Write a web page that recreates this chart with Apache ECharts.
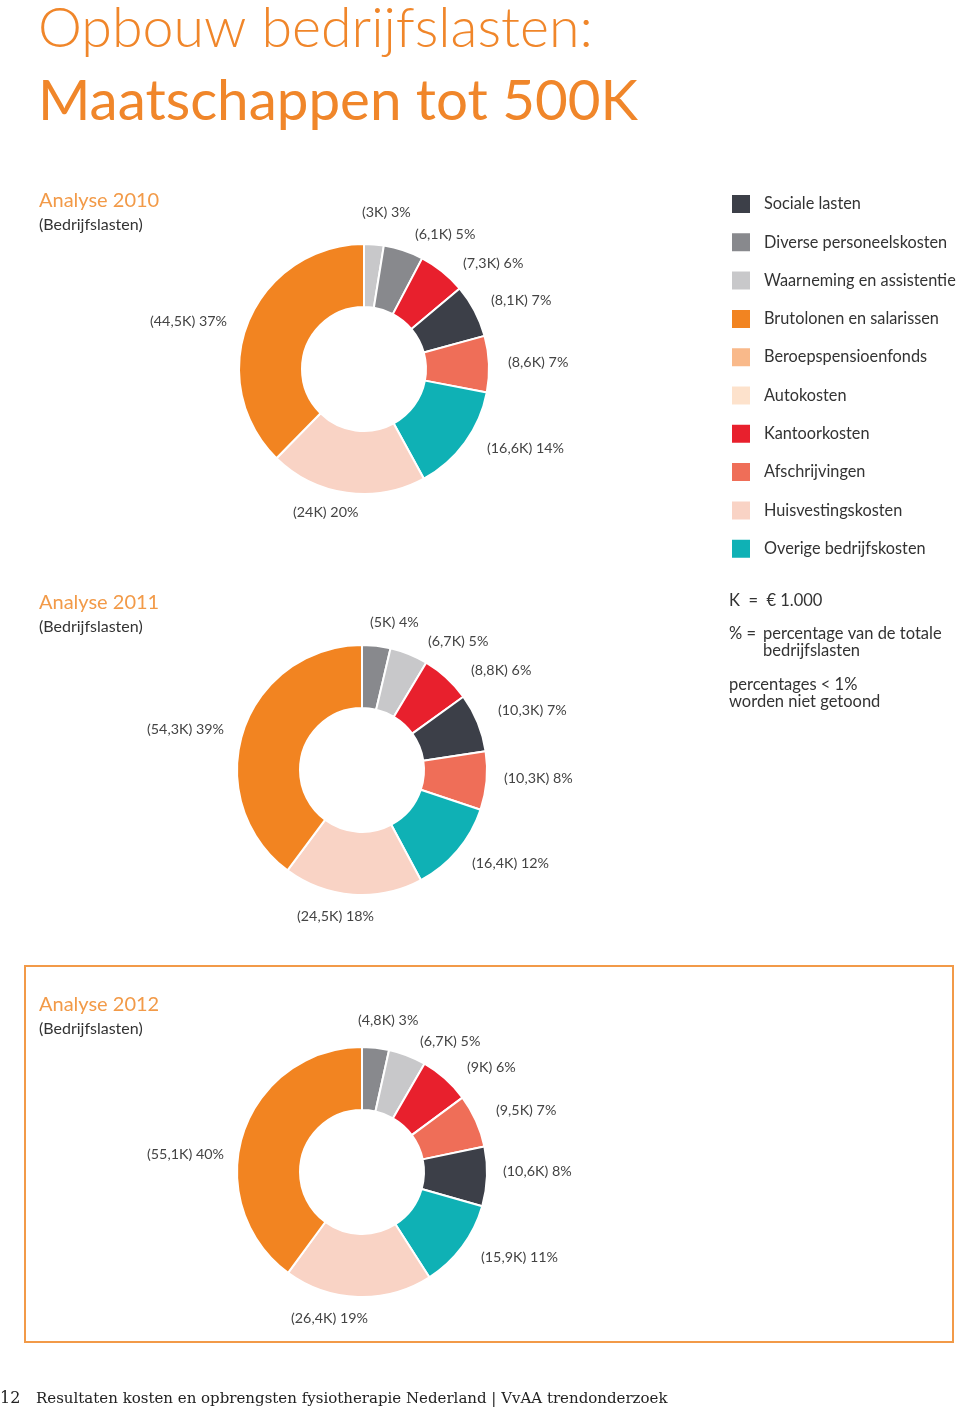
<!DOCTYPE html>
<html>
<head>
<meta charset="utf-8">
<script src="https://cdn.jsdelivr.net/npm/echarts@6/dist/echarts.min.js"></script>
<style>
  html, body { margin: 0; padding: 0; background: #fff; }
  #chart { width: 960px; height: 1412px; }
</style>
</head>
<body>
<div id="chart"></div>
<script>
// ---------- DATA ----------
const legendCategories = [
  'Sociale lasten', 'Diverse personeelskosten', 'Waarneming en assistentie',
  'Brutolonen en salarissen', 'Beroepspensioenfonds', 'Autokosten',
  'Kantoorkosten', 'Afschrijvingen', 'Huisvestingskosten', 'Overige bedrijfskosten'
];
const years = ['2010', '2011', '2012'];

// slice order clockwise from 12 o'clock (values in K euro), percentages as printed
const cats2010 = ['Waarneming en assistentie', 'Diverse personeelskosten', 'Kantoorkosten', 'Sociale lasten',
  'Afschrijvingen', 'Overige bedrijfskosten', 'Huisvestingskosten', 'Brutolonen en salarissen'];
const values2010 = [3, 6.1, 7.3, 8.1, 8.6, 16.6, 24, 44.5];
const pct2010 = [3, 5, 6, 7, 7, 14, 20, 37];

const cats2011 = ['Diverse personeelskosten', 'Waarneming en assistentie', 'Kantoorkosten', 'Sociale lasten',
  'Afschrijvingen', 'Overige bedrijfskosten', 'Huisvestingskosten', 'Brutolonen en salarissen'];
const values2011 = [5, 6.7, 8.8, 10.3, 10.3, 16.4, 24.5, 54.3];
const pct2011 = [4, 5, 6, 7, 8, 12, 18, 39];

const cats2012 = ['Diverse personeelskosten', 'Waarneming en assistentie', 'Kantoorkosten', 'Afschrijvingen',
  'Sociale lasten', 'Overige bedrijfskosten', 'Huisvestingskosten', 'Brutolonen en salarissen'];
const values2012 = [4.8, 6.7, 9, 9.5, 10.6, 15.9, 26.4, 55.1];
const pct2012 = [3, 5, 6, 7, 8, 11, 19, 40];

// categories below 1% (not shown)
const hiddenCats = ['Beroepspensioenfonds', 'Autokosten'];

// ---------- STYLE ----------
const colorMap = {
  'Sociale lasten': '#3c3f48',
  'Diverse personeelskosten': '#88898d',
  'Waarneming en assistentie': '#c8c8ca',
  'Brutolonen en salarissen': '#f28421',
  'Beroepspensioenfonds': '#f9b98a',
  'Autokosten': '#fde2cc',
  'Kantoorkosten': '#e8202d',
  'Afschrijvingen': '#ef6e58',
  'Huisvestingskosten': '#f9d3c5',
  'Overige bedrijfskosten': '#0fb1b5'
};
const ORANGE = '#f0862a';
const HEAD = '#f29a48';
const TXT = '#333333';
const FONT = 'Lato, "Noto Sans", sans-serif';

// label anchor positions (left edge, vertical middle), per pie
const labelPos = [
  [[362,212],[415,234],[463,263],[491,300],[508,362],[487,448],[293,512],[150,321]],
  [[370,622],[428,641],[471,670],[498,710],[504,778],[472,863],[297,916],[147,729]],
  [[358,1020],[420,1041],[467,1067],[496,1110],[503,1171],[481,1257],[291,1318],[147,1154]]
];
const centers = [[364, 369], [362, 770], [362, 1172]];

function fmtK(v) { return String(v).replace('.', ',') + 'K'; }

function buildData(cats, vals, pcts) {
  const d = cats.map((c, i) => ({
    name: c, value: vals[i],
    itemStyle: { color: colorMap[c] },
    label: { show: true, formatter: '(' + fmtK(vals[i]) + ') ' + pcts[i] + '%' }
  }));
  hiddenCats.forEach(c => d.push({ name: c, value: 0, itemStyle: { color: colorMap[c] }, label: { show: false } }));
  return d;
}

const pieSets = [
  buildData(cats2010, values2010, pct2010),
  buildData(cats2011, values2011, pct2011),
  buildData(cats2012, values2012, pct2012)
];

const series = pieSets.map((data, si) => ({
  type: 'pie',
  name: 'Analyse ' + years[si],
  center: centers[si],
  radius: [62, 125],
  startAngle: 90,
  clockwise: true,
  avoidLabelOverlap: false,
  silent: true,
  itemStyle: { borderColor: '#ffffff', borderWidth: 2 },
  label: { position: 'outside', color: '#444', fontFamily: FONT, fontSize: 14.3 },
  labelLine: { show: false },
  labelLayout: function (p) {
    const pos = labelPos[si][p.dataIndex];
    if (!pos) return {};
    return { x: pos[0], y: pos[1], align: 'left', verticalAlign: 'middle' };
  },
  data: data
}));

const NOTE = '16.5px ' + FONT;
const graphics = [
  { type: 'text', left: 38, top: 1, style: { text: 'Opbouw bedrijfslasten:', fill: ORANGE, font: '300 55.5px ' + FONT } },
  { type: 'text', left: 38, top: 73, style: { text: 'Maatschappen tot 500K', fill: ORANGE, font: '400 56.5px ' + FONT } },
  { type: 'rect', shape: { x: 25, y: 966, width: 928, height: 376 }, style: { fill: 'none', stroke: HEAD, lineWidth: 2 } },
  { type: 'text', x: 36, y: 1399, style: { text: 'Resultaten kosten en opbrengsten fysiotherapie Nederland | VvAA trendonderzoek', fill: '#222', font: '15px "DejaVu Serif", serif', verticalAlign: 'middle' } },
  { type: 'text', x: 0, y: 1399, style: { text: '12', fill: '#222', font: '16px "DejaVu Serif", serif', verticalAlign: 'middle' } },
  { type: 'text', x: 729, y: 601, style: { text: 'K  =  € 1.000', fill: TXT, font: NOTE, verticalAlign: 'middle' } },
  { type: 'text', x: 729, y: 634, style: { text: '% =', fill: TXT, font: NOTE, verticalAlign: 'middle' } },
  { type: 'text', x: 763, y: 634, style: { text: 'percentage van de totale', fill: TXT, font: NOTE, verticalAlign: 'middle' } },
  { type: 'text', x: 763, y: 651, style: { text: 'bedrijfslasten', fill: TXT, font: NOTE, verticalAlign: 'middle' } },
  { type: 'text', x: 729, y: 685, style: { text: 'percentages < 1%', fill: TXT, font: NOTE, verticalAlign: 'middle' } },
  { type: 'text', x: 729, y: 702, style: { text: 'worden niet getoond', fill: TXT, font: NOTE, verticalAlign: 'middle' } }
];
const headY = [201, 603, 1005];
years.forEach((y, i) => {
  graphics.push({ type: 'text', x: 39, y: headY[i], style: { text: 'Analyse ' + y, fill: HEAD, font: '20px ' + FONT, verticalAlign: 'middle' } });
  graphics.push({ type: 'text', x: 39, y: headY[i] + 24, style: { text: '(Bedrijfslasten)', fill: TXT, font: '16px ' + FONT, verticalAlign: 'middle' } });
});

const chart = echarts.init(document.getElementById('chart'), null, { renderer: 'canvas' });
chart.setOption({
  backgroundColor: '#ffffff',
  animation: false,
  legend: {
    orient: 'vertical',
    left: 725, top: 188,
    padding: 5,
    itemWidth: 20, itemHeight: 20, itemGap: 16.3,
    icon: 'rect',
    selectedMode: false,
    data: legendCategories,
    textStyle: { color: TXT, fontSize: 16.3, fontFamily: FONT, padding: [0, 0, 0, 8] }
  },
  series: series,
  graphic: graphics
});
</script>
</body>
</html>
